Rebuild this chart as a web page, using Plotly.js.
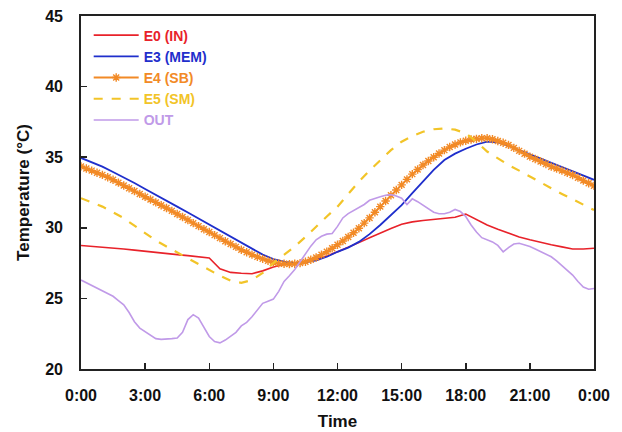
<!DOCTYPE html>
<html>
<head>
<meta charset="utf-8">
<script src="https://cdn.plot.ly/plotly-3.0.1.min.js"></script>
<style>html,body{margin:0;padding:0;background:#fff;}#chart{width:622px;height:432px;}</style>
</head>
<body>
<div id="chart"></div>
<script>
// Time grids (hours from 0:00 to 24:00)
const hoursHalf = Array.from({length: 49}, (_, i) => i * 0.5);
const hoursQuarter = Array.from({length: 97}, (_, i) => i * 0.25);

const tickHours = [0, 3, 6, 9, 12, 15, 18, 21, 24];
const tickLabels = ['0:00', '3:00', '6:00', '9:00', '12:00', '15:00', '18:00', '21:00', '0:00'];
const yTicks = [20, 25, 30, 35, 40, 45];

// E0 (IN) – half-hourly
const e0In = [28.75, 28.7, 28.65, 28.58, 28.5, 28.42, 28.33, 28.25, 28.17, 28.1,
  28.03, 27.95, 27.86, 27.1, 26.84, 26.78, 26.75, 26.95, 27.22, 27.4,
  27.5, 27.6, 27.8, 28.0, 28.3, 28.6, 28.95, 29.3, 29.65, 29.95,
  30.25, 30.42, 30.52, 30.6, 30.66, 30.75, 30.97, 30.6, 30.2, 29.9,
  29.6, 29.35, 29.15, 28.95, 28.8, 28.65, 28.5, 28.5, 28.55];

// E3 (MEM) – half-hourly
const e3Mem = [34.95, 34.65, 34.33, 33.95, 33.58, 33.17, 32.75, 32.35, 31.93, 31.5,
  31.08, 30.65, 30.2, 29.77, 29.33, 28.9, 28.49, 28.1, 27.78, 27.6,
  27.5, 27.55, 27.7, 27.95, 28.3, 28.6, 29.0, 29.55, 30.2, 30.9,
  31.6, 32.45, 33.27, 34.1, 34.8, 35.25, 35.6, 35.9, 36.1, 36.05,
  35.8, 35.5, 35.2, 34.9, 34.6, 34.3, 34.0, 33.7, 33.4];

// E4 (SB) – quarter-hourly
const e4Sb = [34.35, 34.2, 34.05, 33.9, 33.75, 33.58, 33.4, 33.2, 33.0, 32.8,
  32.6, 32.4, 32.2, 32.0, 31.8, 31.6, 31.4, 31.2, 30.98, 30.76,
  30.55, 30.33, 30.12, 29.9, 29.7, 29.48, 29.27, 29.05, 28.85, 28.65,
  28.45, 28.27, 28.1, 27.94, 27.8, 27.66, 27.55, 27.48, 27.45, 27.43,
  27.45, 27.5, 27.6, 27.74, 27.9, 28.1, 28.3, 28.55, 28.8, 29.07,
  29.35, 29.65, 29.97, 30.33, 30.7, 31.1, 31.5, 31.9, 32.3, 32.68,
  33.04, 33.43, 33.8, 34.13, 34.45, 34.73, 35.0, 35.26, 35.5, 35.72,
  35.9, 36.05, 36.17, 36.25, 36.3, 36.34, 36.35, 36.27, 36.15, 36.02,
  35.87, 35.66, 35.45, 35.25, 35.04, 34.87, 34.7, 34.52, 34.33, 34.2,
  34.05, 33.9, 33.74, 33.55, 33.35, 33.15, 32.97];

// E5 (SM) – half-hourly
const e5Sm = [32.1, 31.8, 31.5, 31.1, 30.68, 30.15, 29.6, 29.1, 28.67, 28.25,
  27.85, 27.45, 27.03, 26.6, 26.25, 26.1, 26.3, 26.8, 27.5, 28.1,
  28.67, 29.35, 30.1, 30.8, 31.5, 32.4, 33.27, 34.05, 34.8, 35.5,
  36.1, 36.5, 36.8, 36.98, 37.04, 36.95, 36.69, 36.1, 35.4, 34.9,
  34.45, 34.05, 33.62, 33.2, 32.8, 32.4, 32.02, 31.65, 31.26];

// OUT – quarter-hourly
const outdoor = [26.3, 26.1, 25.9, 25.7, 25.55, 25.35, 25.15, 24.85, 24.55, 24.0,
  23.35, 22.9, 22.65, 22.35, 22.15, 22.1, 22.1, 22.15, 22.2, 22.6,
  23.5, 23.85, 23.6, 22.9, 22.3, 21.95, 21.85, 22.05, 22.3, 22.6,
  23.05, 23.3, 23.7, 24.2, 24.65, 24.8, 24.95, 25.5, 26.2, 26.6,
  27.05, 27.6, 28.2, 28.7, 29.15, 29.4, 29.55, 29.6, 30.1, 30.7,
  31.0, 31.2, 31.4, 31.65, 31.95, 32.1, 32.2, 32.3, 32.35, 32.25,
  32.1, 31.65, 32.05, 31.85, 31.6, 31.4, 31.1, 31.0, 31.0, 31.1,
  31.3, 31.15, 30.8, 30.2, 29.7, 29.3, 29.15, 29.0, 28.75, 28.3,
  28.6, 28.85, 28.9, 28.8, 28.67, 28.5, 28.3, 28.15, 27.95, 27.65,
  27.3, 26.95, 26.65, 26.2, 25.8, 25.65, 25.7];

const C_RED = '#e8222a', C_BLUE = '#1f2fcc', C_ORANGE = '#f28a26', C_YELLOW = '#f2c428', C_PURPLE = '#c09ae8';
const lbl = (t, c) => '<span style="color:' + c + '"><b>' + t + '</b></span>';

const traces = [
  {x: hoursHalf, y: e0In, name: lbl('E0 (IN)', C_RED), mode: 'lines', line: {color: C_RED, width: 1.6}},
  {x: hoursHalf, y: e3Mem, name: lbl('E3 (MEM)', C_BLUE), mode: 'lines', line: {color: C_BLUE, width: 1.8}},
  {x: hoursQuarter, y: e4Sb, name: lbl('E4 (SB)', C_ORANGE), mode: 'lines+markers',
   line: {color: C_ORANGE, width: 2}, marker: {symbol: 'asterisk-open', size: 7, color: C_ORANGE, line: {color: C_ORANGE, width: 1.4}}},
  {x: hoursHalf, y: e5Sm, name: lbl('E5 (SM)', C_YELLOW), mode: 'lines', line: {color: C_YELLOW, width: 2.2, dash: 'dash'}},
  {x: hoursQuarter, y: outdoor, name: lbl('OUT', C_PURPLE), mode: 'lines', line: {color: C_PURPLE, width: 1.6}}
];

const font = 'Arial, "Liberation Sans", sans-serif';
const layout = {
  width: 622, height: 432,
  margin: {l: 81, r: 28, t: 16, b: 63},
  paper_bgcolor: '#fff', plot_bgcolor: '#fff',
  font: {family: font, color: '#111'},
  showlegend: true,
  legend: {x: 0.015, y: 0.99, xanchor: 'left', yanchor: 'top', bgcolor: 'rgba(0,0,0,0)',
    font: {family: font, size: 14}, tracegroupgap: 0, itemwidth: 45},
  xaxis: {
    range: [0, 24], tickvals: tickHours, ticktext: tickLabels,
    ticks: 'inside', ticklen: 6, tickwidth: 1.5, tickcolor: '#222',
    showline: true, linecolor: '#222', linewidth: 1.8, mirror: true,
    showgrid: false, zeroline: false, ticklabelstandoff: 11,
    tickfont: {family: font, size: 16, color: '#111', weight: 'bold'},
    title: {text: '<b>Time</b>', font: {family: font, size: 17, color: '#111'}, standoff: 12}
  },
  yaxis: {
    range: [20, 45], tickvals: yTicks,
    ticks: 'inside', ticklen: 6, tickwidth: 1.5, tickcolor: '#222',
    showline: true, linecolor: '#222', linewidth: 1.8, mirror: true,
    showgrid: false, zeroline: false, ticklabelstandoff: 13,
    tickfont: {family: font, size: 16, color: '#111', weight: 'bold'},
    title: {text: '<b>Temperature (°C)</b>', font: {family: font, size: 17, color: '#111'}, standoff: 11}
  }
};

Plotly.newPlot('chart', traces, layout, {displayModeBar: false, staticPlot: true});
</script>
</body>
</html>
